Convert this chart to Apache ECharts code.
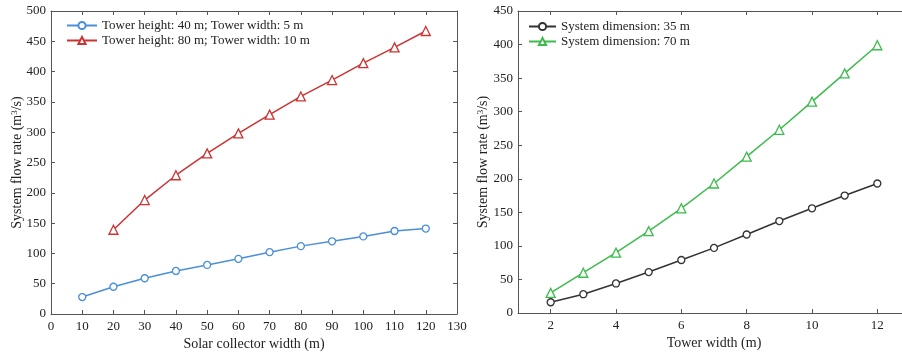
<!DOCTYPE html>
<html><head><meta charset="utf-8">
<script src="https://cdn.jsdelivr.net/npm/echarts@6/dist/echarts.min.js"></script>
<style>html,body{margin:0;padding:0;background:#fff}#c{width:902px;height:355px}</style>
</head><body><div id="c"></div>
<script>
const collectorWidth = [10, 20, 30, 40, 50, 60, 70, 80, 90, 100, 110, 120];
const flowH40W5 = [28, 45, 59, 71, 81, 91, 102, 112, 120, 128, 137, 141];
const collectorWidthH80 = [20, 30, 40, 50, 60, 70, 80, 90, 100, 110, 120];
const flowH80W10 = [139, 188, 229, 265, 298, 329, 359, 386, 414, 440, 467];
const towerWidth = [2, 3, 4, 5, 6, 7, 8, 9, 10, 11, 12];
const flowDim35 = [16, 28, 44, 61, 79, 97, 117, 137, 156, 175, 193];
const flowDim70 = [30, 60, 90, 122, 156, 193, 233, 273, 315, 357, 399];
const towerTicks = [2, 4, 6, 8, 10, 12];
const names = ['Tower height: 40 m; Tower width: 5 m', 'Tower height: 80 m; Tower width: 10 m',
               'System dimension: 35 m', 'System dimension: 70 m'];

const FONT = 'Liberation Serif';
const TXT = '#222';
const AXC = '#555';
const zip = (xs, ys) => xs.map((x, i) => [x, ys[i]]);

const baseAxis = (extra) => Object.assign({
  type: 'value',
  nameMoveOverlap: false,
  axisLine: {show: true, onZero: false, lineStyle: {color: AXC, width: 1}},
  axisTick: {show: true, inside: true, length: 4, lineStyle: {color: AXC}},
  splitLine: {show: false},
  axisLabel: {color: TXT, fontFamily: FONT, fontSize: 13},
  nameTextStyle: {color: TXT, fontFamily: FONT, fontSize: 14}
}, extra);
const mirror = (extra) => baseAxis(Object.assign({axisLabel: {show: false}}, extra));
const ylabelRich = {sup: {fontFamily: FONT, fontSize: 9, color: TXT, verticalAlign: 'top', padding: [0, 0, 6, 0]},
                    n: {fontFamily: FONT, fontSize: 14, color: TXT}};

const mk = (name, xi, data, sym, size, col) => ({
  name, type: 'line', xAxisIndex: xi, yAxisIndex: xi, data,
  symbol: sym, symbolSize: size,
  lineStyle: {width: 1.5, color: col},
  itemStyle: {color: '#fff', borderColor: col, borderWidth: 1.3}
});

const option = {
  backgroundColor: '#fff',
  animation: false,
  grid: [
    {left: 51, width: 406, top: 11, bottom: 41, outerBoundsMode: 'none'},
    {left: 518, width: 392, top: 11, bottom: 42, outerBoundsMode: 'none'}
  ],
  xAxis: [
    baseAxis({gridIndex: 0, min: 0, max: 130, interval: 10, position: 'bottom',
      name: 'Solar collector width (m)', nameLocation: 'middle', nameGap: 23,
      axisLabel: {color: TXT, fontFamily: FONT, fontSize: 13, margin: 6}}),
    mirror({gridIndex: 0, min: 0, max: 130, interval: 10, position: 'top'}),
    baseAxis({gridIndex: 1, min: 1, max: 13, position: 'bottom',
      name: 'Tower width (m)', nameLocation: 'middle', nameGap: 23,
      axisLabel: {color: TXT, fontFamily: FONT, fontSize: 13, margin: 6, customValues: towerTicks},
      axisTick: {show: true, inside: true, length: 4, lineStyle: {color: AXC}, customValues: towerTicks}}),
    mirror({gridIndex: 1, min: 1, max: 13, position: 'top',
      axisTick: {show: true, inside: true, length: 4, lineStyle: {color: AXC}, customValues: towerTicks}})
  ],
  yAxis: [
    baseAxis({gridIndex: 0, min: 0, max: 500, interval: 50, position: 'left',
      name: '{n|System flow rate (m}{sup|3}{n|/s)}', nameLocation: 'middle', nameGap: 26,
      nameTextStyle: {color: TXT, fontFamily: FONT, fontSize: 14, rich: ylabelRich},
      axisLabel: {color: TXT, fontFamily: FONT, fontSize: 13, margin: 5}}),
    mirror({gridIndex: 0, min: 0, max: 500, interval: 50, position: 'right'}),
    baseAxis({gridIndex: 1, min: 0, max: 450, interval: 50, position: 'left',
      name: '{n|System flow rate (m}{sup|3}{n|/s)}', nameLocation: 'middle', nameGap: 27,
      nameTextStyle: {color: TXT, fontFamily: FONT, fontSize: 14, rich: ylabelRich},
      axisLabel: {color: TXT, fontFamily: FONT, fontSize: 13, margin: 5}}),
    mirror({gridIndex: 1, min: 0, max: 450, interval: 50, position: 'right'})
  ],
  legend: [
    {data: [names[0], names[1]], orient: 'vertical', left: 66, top: 19, padding: 0, itemWidth: 30, itemHeight: 9, itemGap: 2,
     textStyle: {color: TXT, fontFamily: FONT, fontSize: 13}},
    {data: [names[2], names[3]], orient: 'vertical', left: 528, top: 20, padding: 0, itemWidth: 27, itemHeight: 9, itemGap: 2,
     textStyle: {color: TXT, fontFamily: FONT, fontSize: 13}}
  ],
  series: [
    mk(names[0], 0, zip(collectorWidth, flowH40W5), 'circle', 7, '#4a8fd8'),
    mk(names[1], 0, zip(collectorWidthH80, flowH80W10), 'triangle', 9, '#cc3333'),
    mk(names[2], 2, zip(towerWidth, flowDim35), 'circle', 7, '#333333'),
    mk(names[3], 2, zip(towerWidth, flowDim70), 'triangle', 9, '#3dbb4c')
  ]
};
echarts.init(document.getElementById('c'), null, {renderer: 'canvas'}).setOption(option);
</script></body></html>
